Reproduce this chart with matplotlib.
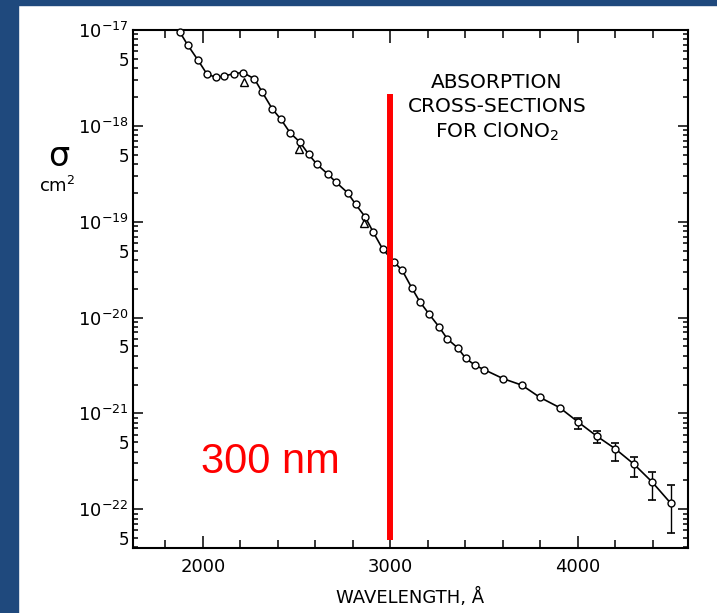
import numpy as np
import matplotlib
matplotlib.use("Agg")
import matplotlib.pyplot as plt
from matplotlib.patches import Rectangle
from matplotlib.ticker import MultipleLocator, FixedLocator, FuncFormatter

# ClONO2 absorption cross-sections (wavelength in Angstrom, sigma in cm^2)
wavelength = [1877, 1918, 1972, 2020, 2068, 2110, 2164, 2213, 2274, 2316,
              2370, 2416, 2466, 2516, 2564, 2606, 2665, 2708, 2772, 2814,
              2864, 2908, 2958, 3019, 3063, 3113, 3157, 3207, 3259, 3303,
              3360, 3401, 3453, 3500, 3602, 3701, 3797, 3902, 4002, 4100,
              4197, 4299, 4395, 4494]
sigma = [9.5e-18, 7.0e-18, 4.9e-18, 3.5e-18, 3.2e-18, 3.3e-18, 3.5e-18, 3.6e-18, 3.1e-18, 2.25e-18,
         1.5e-18, 1.17e-18, 8.4e-19, 6.8e-19, 5.05e-19, 4.0e-19, 3.15e-19, 2.6e-19, 2.0e-19, 1.52e-19,
         1.13e-19, 7.8e-20, 5.2e-20, 3.8e-20, 3.1e-20, 2.05e-20, 1.46e-20, 1.08e-20, 8.0e-21, 6.0e-21,
         4.8e-21, 3.76e-21, 3.16e-21, 2.86e-21, 2.3e-21, 1.97e-21, 1.47e-21, 1.15e-21, 8.1e-22, 5.8e-22,
         4.3e-22, 2.95e-22, 1.93e-22, 1.16e-22]

# error bars on the long-wavelength points
err_wl = [4002, 4100, 4197, 4299, 4395, 4494]
err_val = [8.1e-22, 5.8e-22, 4.3e-22, 2.95e-22, 1.93e-22, 1.16e-22]
err_hi = [8.9e-22, 6.6e-22, 4.9e-22, 3.5e-22, 2.43e-22, 1.79e-22]
err_lo = [6.8e-22, 4.9e-22, 3.2e-22, 2.16e-22, 1.25e-22, 5.7e-23]

# second set of measurements (triangles)
tri_wl = [2220, 2512, 2860]
tri_val = [2.9e-18, 5.8e-19, 9.6e-20]

marker_wl = 3000
marker_top = 2.13e-18
marker_bottom = 4.8e-23

decades = [-22, -21, -20, -19, -18, -17]
ymin, ymax = 3.94e-23, 1e-17

fig = plt.figure(figsize=(7.17, 6.13), dpi=100)
fig.patch.set_facecolor("white")

# slide frame
blue = "#1F497D"
fig.add_artist(Rectangle((0, 0), 18 / 717, 1, transform=fig.transFigure, color=blue, zorder=0))
fig.add_artist(Rectangle((0, 1 - 5 / 613), 1, 5 / 613, transform=fig.transFigure, color=blue, zorder=0))

ax = fig.add_axes([133 / 717, 65 / 613, 555 / 717, 518 / 613])
ax.set_yscale("log")
ax.set_xlim(1627, 4587)
ax.set_ylim(ymin, ymax)

ax.plot(wavelength, sigma, color="black", lw=1.2, marker="o", ms=5,
        mfc="white", mec="black", mew=1.0, clip_on=False, zorder=3)
yerr = [np.array(err_val) - np.array(err_lo), np.array(err_hi) - np.array(err_val)]
ax.errorbar(err_wl, err_val, yerr=yerr, fmt="none", ecolor="black",
            elinewidth=1.0, capsize=3, capthick=1.2, zorder=2)
ax.plot(tri_wl, tri_val, linestyle="none", marker="^", ms=6,
        mfc="none", mec="black", mew=1.0, zorder=3)

ax.vlines(marker_wl, marker_bottom, marker_top, color="#FF0000", lw=4.3, zorder=5)
ax.text(0.247, 0.166, "300 nm", transform=ax.transAxes, color="#FF0000",
        fontsize=30, family="Liberation Sans", ha="center", va="center")

ax.text(0.656, 0.849, "ABSORPTION\nCROSS-SECTIONS\nFOR ClONO$_2$", transform=ax.transAxes,
        fontsize=14.5, ha="center", va="center", linespacing=1.3)

# axis styling
for sp in ax.spines.values():
    sp.set_linewidth(1.5)

ax.xaxis.set_major_locator(MultipleLocator(1000))
ax.xaxis.set_minor_locator(MultipleLocator(200))
ax.xaxis.set_major_formatter(FuncFormatter(lambda v, p: "%d" % v))

major_y = [10.0 ** d for d in decades]
minor_y = [m * 10.0 ** d for d in [-23] + decades[:-1] for m in range(2, 10)
           if ymin <= m * 10.0 ** d <= ymax]
ax.yaxis.set_major_locator(FixedLocator(major_y))
ax.yaxis.set_minor_locator(FixedLocator(minor_y))


def major_fmt(v, pos):
    return r"$10^{%d}$" % int(round(np.log10(v)))


def minor_fmt(v, pos):
    m = v / 10 ** np.floor(np.log10(v) + 1e-9)
    return "5" if abs(m - 5) < 0.01 else ""


ax.yaxis.set_major_formatter(FuncFormatter(major_fmt))
ax.yaxis.set_minor_formatter(FuncFormatter(minor_fmt))

ax.tick_params(which="both", direction="in", top=True, right=True, width=1.1)
ax.tick_params(axis="x", which="major", length=9, labelsize=13, pad=7)
ax.tick_params(axis="x", which="minor", length=5.5)
ax.tick_params(axis="y", which="major", length=7, labelsize=13, pad=3)
ax.tick_params(axis="y", which="minor", length=3.5, labelsize=12, pad=3)

ax.set_xlabel("WAVELENGTH, Å", fontsize=13, labelpad=9)

# sigma / cm^2 axis label
fig.text(59 / 717, 1 - 173 / 613, "σ", fontsize=24, ha="center", va="bottom")
fig.text(57 / 717, 1 - 176 / 613, "cm$^2$", fontsize=13, ha="center", va="top")

fig.savefig("out.png", dpi=100)
